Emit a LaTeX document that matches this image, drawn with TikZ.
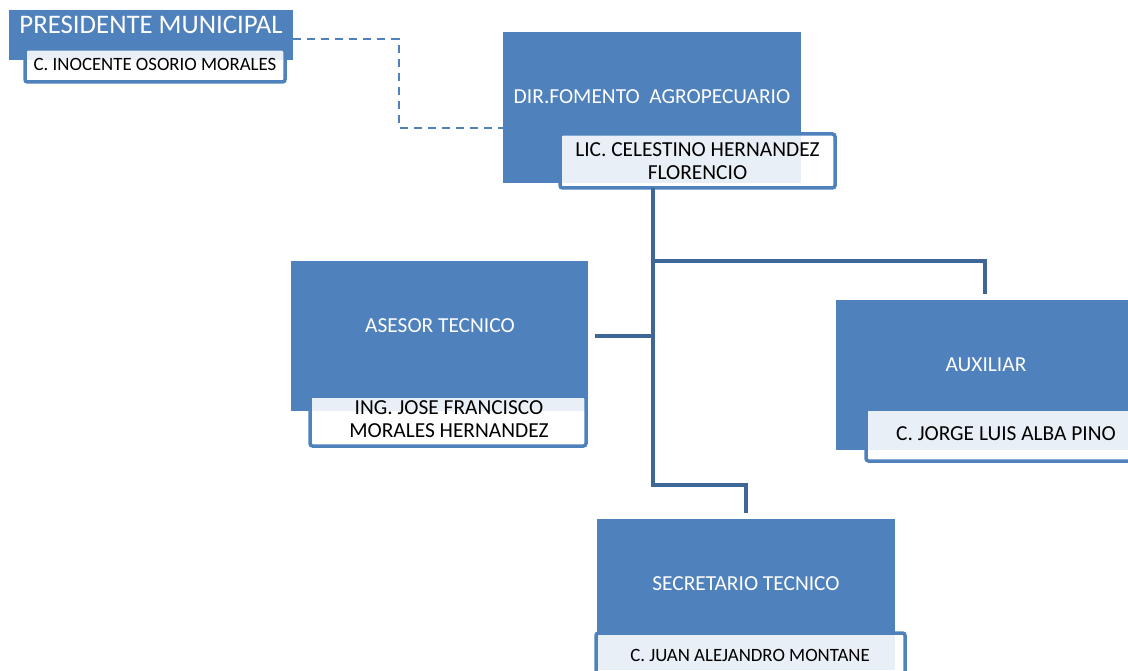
\documentclass[tikz,border=0pt]{standalone}
\usepackage{fontspec}
\setmainfont{Carlito}
\definecolor{boxblue}{HTML}{4F81BD}
\definecolor{lineblue}{HTML}{3E6698}
\begin{document}
\begin{tikzpicture}[x=1pt,y=-1pt,
  mainbox/.style={rectangle, fill=boxblue, draw=none, inner sep=0pt},
  subbox/.style={rectangle, fill=white, fill opacity=0.88, draw=boxblue, draw opacity=1, line width=3.5pt, rounded corners=2.5pt, inner sep=0pt},
  titletext/.style={text=white, font=\fontsize{21.4}{24}\selectfont, inner sep=0pt},
  persontext/.style={text=black, font=\fontsize{21.4}{23}\selectfont, align=center, inner sep=0pt},
  conn/.style={draw=lineblue, line width=4pt},
  dashln/.style={draw=boxblue, line width=2pt, dash pattern=on 8pt off 6pt}]
\useasboundingbox (0,0) rectangle (1128,671);
% Presidente
\node[mainbox, minimum width=284pt, minimum height=50pt] (pres) at (151,35) {};
\node[text=white, font=\fontsize{26.8}{30}\selectfont, inner sep=0pt] (prest) at (151,25) {PRESIDENTE MUNICIPAL};
\node[subbox, minimum width=260pt, minimum height=33pt] (press) at (155,65.5) {};
\node[persontext, font=\fontsize{18.8}{22}\selectfont] (presn) at (155,64) {C. INOCENTE OSORIO MORALES};
% Director
\node[mainbox, minimum width=298pt, minimum height=151pt] (dir) at (652,107.5) {};
\node[titletext] (dirt) at (652,97) {DIR.FOMENTO\ \ AGROPECUARIO};
\node[subbox, minimum width=275pt, minimum height=54pt] (dirs) at (697.5,161) {};
\node[persontext] (dirn) at (697.5,161) {LIC. CELESTINO HERNANDEZ\\FLORENCIO};
% Asesor
\node[mainbox, minimum width=297pt, minimum height=150pt] (ase) at (439.5,336) {};
\node[titletext] (aset) at (440,326) {ASESOR TECNICO};
\node[subbox, minimum width=276pt, minimum height=50pt] (ases) at (448,421) {};
\node[persontext] (asen) at (449,419.5) {ING. JOSE FRANCISCO\\MORALES HERNANDEZ};
% Auxiliar
\node[mainbox, minimum width=298pt, minimum height=150pt] (aux) at (985,375) {};
\node[titletext] (auxt) at (986,365) {AUXILIAR};
\node[subbox, minimum width=275pt, minimum height=52pt] (auxs) at (1003.5,435) {};
\node[persontext] (auxn) at (1006,434) {C. JORGE LUIS ALBA PINO};
% Secretario
\node[mainbox, minimum width=298pt, minimum height=151pt] (sec) at (746,594.5) {};
\node[titletext] (sect) at (746,584) {SECRETARIO TECNICO};
\node[subbox, minimum width=309pt, minimum height=54pt] (secs) at (750.5,660) {};
\node[persontext, font=\fontsize{18.8}{22}\selectfont] (secn) at (750,655) {C. JUAN ALEJANDRO MONTANE};
% Connectors
\coordinate (trunk) at (653,188);
\coordinate (jaux) at (653,261);
\coordinate (jase) at (trunk |- ase.east);
\coordinate (jsec) at (653,485);
\draw[conn] (trunk) -- (jsec) -| ([yshift=6pt]sec.north);
\draw[conn] (jaux) -| ([yshift=6pt]aux.north);
\draw[conn] ([xshift=7pt]ase.east) -- (jase);
\coordinate (dbend1) at (399,39);
\coordinate (dbend2) at (399,128);
\draw[dashln] ([yshift=-4pt]pres.east) -- (dbend1) -- (dbend2) -- ([yshift=-20.5pt]dir.west);
\end{tikzpicture}
\end{document}
